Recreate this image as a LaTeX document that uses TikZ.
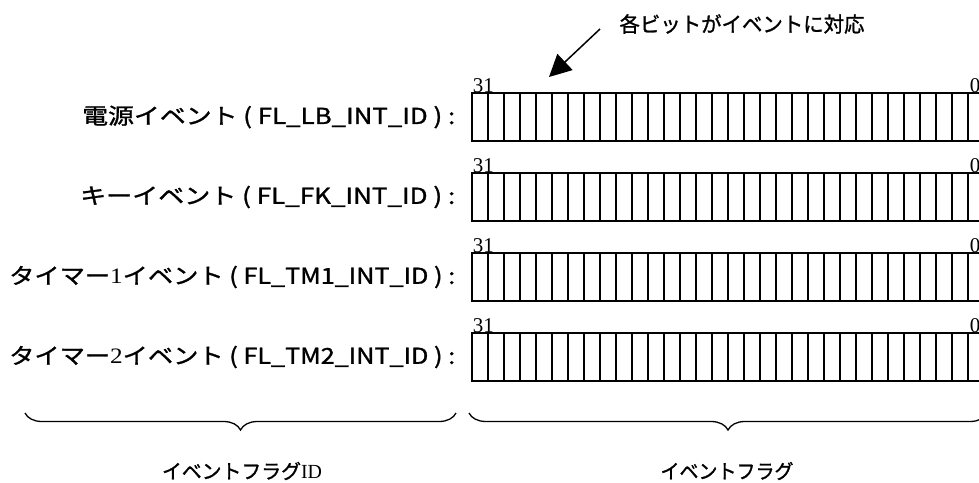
\documentclass[tikz,border=0pt]{standalone}
\usepackage{fontspec}
\usepackage{graphicx}
\setmainfont{Liberation Serif}
\newfontfamily\jp{Noto Sans CJK JP}[FakeBold=1.2]
\usetikzlibrary{arrows.meta,decorations.pathreplacing}
\begin{document}
\begin{tikzpicture}[x=1pt,y=-1pt,line width=1.5pt,
  reg/.style={draw,minimum width=512pt,minimum height=48pt,anchor=north west,inner sep=0pt,outer sep=0pt},
  lbl/.style={anchor=east,inner sep=0pt,font=\jp\fontsize{22}{26}\selectfont},
  bitnum/.style={anchor=south west,inner sep=0pt,font=\fontsize{21}{21}\selectfont},
  notetext/.style={inner sep=0pt,font=\jp\fontsize{21}{25}\selectfont},
  captext/.style={inner sep=0pt,font=\jp\fontsize{20}{24}\selectfont},
  bracestyle/.style={decorate,decoration={brace,amplitude=17pt},line width=1.3pt}]
\clip (0,0) rectangle (979,482);
% registers
\foreach \r/\y in {1/93,2/173,3/253,4/333}{
  \node[reg] (r\r) at (472,\y) {};
  \foreach \i in {1,...,31}
    \draw ([xshift=\i*16pt]r\r.north west) -- ([xshift=\i*16pt]r\r.south west);
  \node[bitnum] (hi\r) at (r\r.north west) {31};
  \node[bitnum] (lo\r) at ([xshift=497pt]r\r.north west) {0};
}
% labels
\node[lbl] (l1) at (456,117) {\resizebox{373pt}{\height}{電源イベント ( FL\_LB\_INT\_ID ) :}};
\node[lbl] (l2) at (456,197) {\resizebox{375pt}{\height}{キーイベント ( FL\_FK\_INT\_ID ) :}};
\node[lbl] (l3) at (456,277) {\resizebox{446pt}{\height}{タイマー{\rmfamily 1}イベント ( FL\_TM1\_INT\_ID ) :}};
\node[lbl] (l4) at (456,357) {\resizebox{446pt}{\height}{タイマー{\rmfamily 2}イベント ( FL\_TM2\_INT\_ID ) :}};
% note with arrow
\node[notetext] (nt) at (742,24) {\resizebox{245pt}{\height}{各ビットがイベントに対応}};
\coordinate (as) at (600,29);
\coordinate (at) at (549,77);
\draw[-{Triangle[length=22pt,width=22pt]}] (as) -- (at);
% braces
\coordinate (b1s) at (456,413);
\coordinate (b1e) at (25,413);
\coordinate (b2s) at (987,413);
\coordinate (b2e) at (469,413);
\draw[bracestyle] (b1s) -- (b1e);
\draw[bracestyle] (b2s) -- (b2e);
\node[captext] (c1) at (242,471) {\resizebox{160pt}{\height}{イベントフラグ{\rmfamily ID}}};
\node[captext] (c2) at (727,471) {\resizebox{133pt}{\height}{イベントフラグ}};
\end{tikzpicture}
\end{document}
